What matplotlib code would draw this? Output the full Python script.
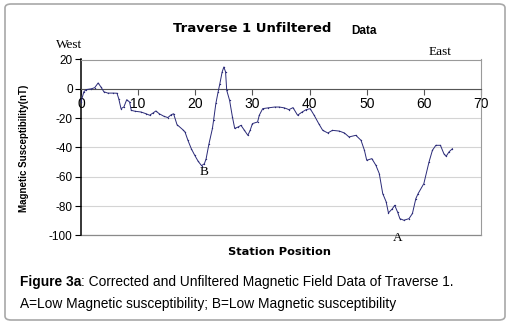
import matplotlib
matplotlib.use("Agg")
import matplotlib.pyplot as plt
from matplotlib.patches import FancyBboxPatch

INK, GRID, LINE = "#000000", "#d4d4d4", "#2a2a78"
SANS = ["Liberation Sans", "Arial", "DejaVu Sans"]
WIDE = ["DejaVu Sans"]
SERIF = ["Liberation Serif", "DejaVu Serif"]
plt.rcParams.update({"font.family": "sans-serif", "font.sans-serif": SANS})

# station position vs magnetic susceptibility (nT)
station = [0.0, 0.5, 0.9, 1.8, 2.4, 3.0, 3.5, 4.0, 4.7, 5.6, 6.3, 6.6, 7.0, 7.5, 8.0,
           8.5, 8.8, 9.5, 10.5, 11.4, 12.0, 12.6, 13.1, 13.7, 14.5, 15.2, 15.8, 16.2,
           16.8, 17.8, 18.2, 18.7, 19.3, 19.9, 20.5, 21.1, 21.6, 21.9, 22.4, 23.0,
           23.2, 23.6, 24.0, 24.3, 24.7, 25.0, 25.3, 25.5, 26.0, 26.5, 26.9, 27.5,
           28.0, 28.6, 29.2, 29.6, 30.0, 30.9, 31.2, 31.8, 32.7, 33.9, 34.7, 35.6,
           36.4, 37.1, 37.9, 38.7, 39.4, 40.1, 40.8, 41.6, 42.3, 43.2, 44.0, 45.2,
           46.1, 46.9, 48.1, 49.0, 49.6, 50.0, 50.9, 51.6, 52.2, 52.8, 53.4, 53.8,
           54.5, 54.9, 55.4, 55.8, 56.5, 57.4, 58.0, 58.6, 59.0, 60.0, 60.9, 61.5,
           62.1, 62.9, 63.5, 63.9, 64.4, 65.0]
suscept = [-9.0, -2.0, -0.5, 0.0, 0.8, 4.0, 1.2, -2.0, -2.9, -2.9, -3.0, -6.7, -13.5,
           -12.4, -7.4, -9.0, -14.7, -15.3, -15.8, -17.0, -18.0, -16.5, -15.1, -17.0,
           -18.7, -19.6, -17.6, -17.0, -24.4, -27.8, -29.4, -35.0, -40.8, -45.3,
           -49.4, -52.4, -51.0, -47.6, -37.4, -27.0, -21.5, -10.0, -2.0, 3.5, 11.5,
           14.9, 11.5, -1.0, -7.8, -19.2, -27.0, -26.0, -24.9, -28.3, -31.7, -28.3,
           -23.7, -22.6, -18.0, -13.5, -13.0, -12.4, -12.4, -13.0, -14.2, -12.8,
           -18.0, -15.8, -14.2, -13.5, -18.0, -23.7, -28.3, -30.1, -28.3, -28.8,
           -30.1, -32.8, -31.7, -35.1, -41.9, -48.7, -47.6, -52.1, -57.8, -71.4,
           -77.0, -84.6, -81.7, -79.4, -84.0, -88.5, -89.6, -88.5, -85.0, -74.8,
           -71.4, -64.6, -49.9, -41.9, -38.5, -38.5, -44.2, -46.0, -43.0, -40.8]
xticks = [0, 10, 20, 30, 40, 50, 60, 70]
yticks = [20, 0, -20, -40, -60, -80, -100]

W, H = 510, 324
fig = plt.figure(figsize=(W / 100, H / 100), dpi=100)
fig.patch.set_facecolor("white")
fig.patches.append(FancyBboxPatch((5 / W, 4 / H), 500 / W, 316 / H,
                                  boxstyle="round,pad=0,rounding_size=0.012",
                                  transform=fig.transFigure, fc="none", ec="#a8a8a8", lw=1.2))

ax = fig.add_axes([81 / W, 1 - 235.5 / H, 400 / W, 176 / H])
ax.plot(station, suscept, color=LINE, lw=0.7, marker="o", ms=1.0, mew=0, zorder=3)
ax.set_xlim(0, 70)
ax.set_ylim(-100, 20)
ax.set_yticks(yticks)
ax.set_yticklabels([str(v) for v in yticks], fontsize=8.5)
ax.set_xticks(xticks)
ax.set_xticklabels([str(v) for v in xticks], fontsize=8.5)
ax.yaxis.grid(True, color=GRID, lw=0.8, zorder=0)
ax.set_axisbelow(True)
ax.spines["bottom"].set_position(("data", 0))
ax.spines["bottom"].set_color("#555555")
ax.spines["left"].set_color(INK)
ax.spines["left"].set_linewidth(1.1)
for s in ["top", "right"]:
    ax.spines[s].set_color("#9a9a9a")
ax.plot([0, 70], [-100, -100], color="#8a8a8a", lw=0.9, clip_on=False, zorder=2)
ax.tick_params(axis="y", direction="out", length=4, width=0.8, pad=2)
ax.tick_params(axis="x", direction="out", length=4, width=0.8, pad=2, color="#555555")

ax.text(21.5, -57, "B", family=SERIF, fontsize=9.5, ha="center", va="center")
ax.text(55.5, -102, "A", family=SERIF, fontsize=9.5, ha="center", va="center")

fig.text(252 / W, 1 - 28 / H, "Traverse 1 Unfiltered", family=WIDE, fontsize=9.5,
         fontweight="bold", ha="center", va="center")
fig.text(364 / W, 1 - 31 / H, "Data", fontsize=8.5, fontweight="bold", ha="center", va="center")
fig.text(69 / W, 1 - 45 / H, "West", family=SERIF, fontsize=9.5, ha="center", va="center")
fig.text(440 / W, 1 - 52 / H, "East", family=SERIF, fontsize=9.5, ha="center", va="center")
fig.text(24 / W, 1 - 148 / H, "Magnetic Susceptibility(nT)", fontsize=7, fontweight="bold",
         rotation=90, ha="center", va="center")
fig.text(280 / W, 1 - 252 / H, "Station Position", family=WIDE, fontsize=8.2,
         fontweight="bold", ha="center", va="center")

cap_y1, cap_y2 = 1 - 282 / H, 1 - 304 / H
t = fig.text(20 / W, cap_y1, "Figure 3a", fontsize=9.9, fontweight="bold", ha="left", va="center")
r = fig.canvas.get_renderer()
bb = t.get_window_extent(renderer=r)
fig.text(bb.x1 / W, cap_y1, ": Corrected and Unfiltered Magnetic Field Data of Traverse 1.",
         fontsize=9.9, ha="left", va="center")
fig.text(20 / W, cap_y2, "A=Low Magnetic susceptibility; B=Low Magnetic susceptibility",
         fontsize=9.9, ha="left", va="center")

fig.savefig("out.png", dpi=100)
